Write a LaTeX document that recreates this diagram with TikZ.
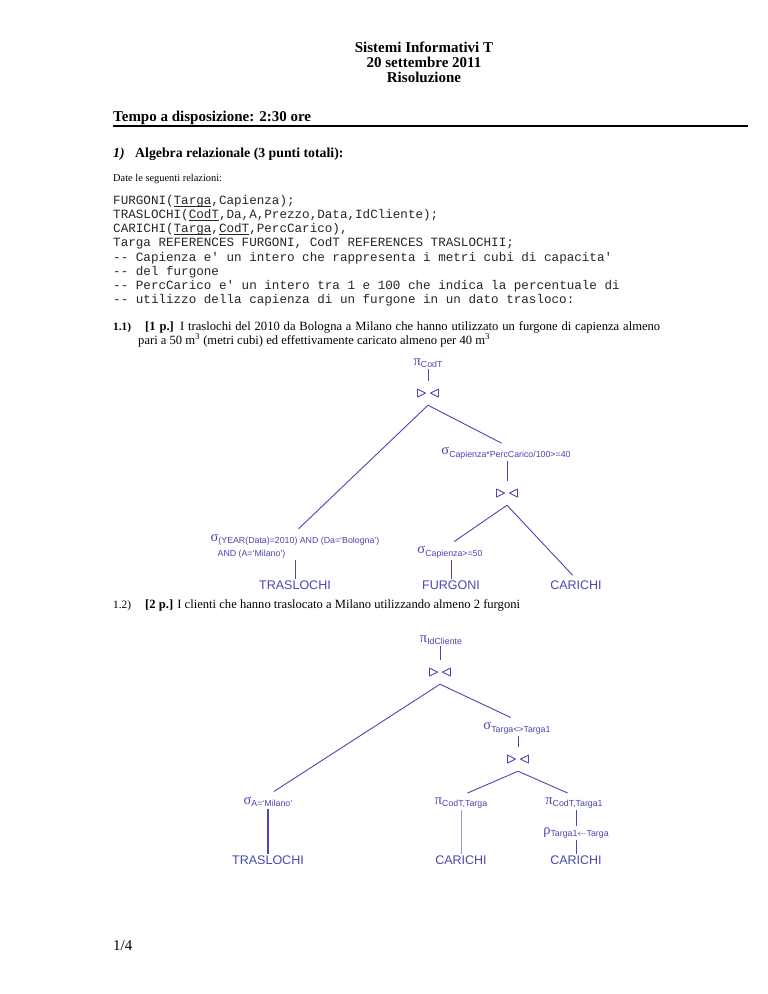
\documentclass[tikz,border=0pt]{standalone}
\usepackage{fontspec}
\setmainfont{Liberation Serif}
\setsansfont{Liberation Sans}
\setmonofont{Liberation Mono}
\usetikzlibrary{positioning}
\definecolor{relblue}{RGB}{72,72,176}
\newcommand{\relop}[2]{{\fontsize{14.5}{14.5}\selectfont\rmfamily #1}\raisebox{-2.5pt}{\fontsize{8.8}{10}\selectfont\sffamily #2}}
\newcommand{\keyattr}[1]{\underline{\smash{#1}}}
\tikzset{
    treeline/.style={draw=relblue, line width=0.9pt},
    leg/.style={treeline, shorten >=5pt},
    relnode/.style={text=relblue, inner sep=1.5pt},
    relname/.style={text=relblue, inner sep=1.5pt, font=\fontsize{12.5}{12.5}\selectfont\sffamily},
    joinop/.style={minimum width=24pt, minimum height=24pt, inner sep=0pt,
        path picture={\draw[relblue, line width=0.9pt, line join=round]
            ([shift={(-10.5pt,4pt)}]path picture bounding box.center) -- ++(8pt,-4pt) -- ++(-8pt,-4pt) -- cycle
            ([shift={(10.5pt,4pt)}]path picture bounding box.center) -- ++(-8pt,-4pt) -- ++(8pt,-4pt) -- cycle;}},
    txt/.style={anchor=base west, inner sep=0pt, font=\fontsize{12.6}{14.4}\selectfont},
    headline/.style={anchor=base, inner sep=0pt, font=\fontsize{15}{15}\selectfont\bfseries}
}

\begin{document}
\begin{tikzpicture}[x=1pt, y=-1pt]
    \fill[white] (0,0) rectangle (768,994);
    % intestazione
    \node[headline] (corso) at (424,52) {Sistemi Informativi T};
    \node[headline] (data) at (424,67) {20 settembre 2011};
    \node[headline] (ris) at (424,82) {Risoluzione};
    \node[txt, font=\fontsize{15}{17}\selectfont\bfseries] (tempo) at (113,121) {Tempo a disposizione: 2:30 ore};
    \draw[line width=1.5pt] (113,126) -- (748,126);
    \node[txt, font=\fontsize{13.8}{16}\selectfont\bfseries\itshape] (es1) at (113,157) {1)};
    \node[txt, font=\fontsize{13.8}{16}\selectfont\bfseries] (es1t) at (135,157) {Algebra relazionale (3 punti totali):};
    \node[txt, font=\fontsize{10.4}{12}\selectfont] (date) at (113,181) {Date le seguenti relazioni:};
    \node[anchor=north west, inner sep=0pt, align=left, text=black!85,
          font=\fontsize{12.6}{14.2}\selectfont\ttfamily] (schema) at (113,195)
        {FURGONI(\keyattr{Targa},Capienza);\\
         TRASLOCHI(\keyattr{CodT},Da,A,Prezzo,Data,IdCliente);\\
         CARICHI(\keyattr{Targa},\keyattr{CodT},PercCarico),\\
         Targa REFERENCES FURGONI, CodT REFERENCES TRASLOCHII;\\
         -- Capienza e' un intero che rappresenta i metri cubi di capacita'\\
         -- del furgone\\
         -- PercCarico e' un intero tra 1 e 100 che indica la percentuale di\\
         -- utilizzo della capienza di un furgone in un dato trasloco:};
    % domanda 1.1
    \node[txt, font=\fontsize{11.3}{13}\selectfont\bfseries] (q11) at (113,330) {1.1)};
    \node[txt] (q11t) at (145,330) {\makebox[515pt][s]{\textbf{[1 p.]} I traslochi del 2010 da Bologna a Milano che hanno utilizzato un furgone di capienza almeno}};
    \node[txt] (q11u) at (138,344) {pari a 50 m\textsuperscript{3} (metri cubi) ed effettivamente caricato almeno per 40 m\textsuperscript{3}};
    \node[relnode] (pic) at (428,363) {\relop{π}{CodT}};
    \node[joinop] (j1) at (428,393) {};
    \node[relnode] (selc) at (506,453) {\relop{σ}{Capienza*PercCarico/100>=40}};
    \node[joinop] (j2) at (507,493) {};
    \node[relnode, align=left] (sely) at (295,546)
        {\relop{σ}{(YEAR(Data)=2010) AND (Da=`Bologna')}\\[3pt]
         \hspace*{7pt}{\fontsize{8.8}{10}\selectfont\sffamily AND (A=`Milano')}};
    \node[relnode] (self) at (450,552) {\relop{σ}{Capienza>=50}};
    \node[relname] (trasl) at (295,585) {TRASLOCHI};
    \node[relname] (furg) at (451,585) {FURGONI};
    \node[relname] (car) at (576,585) {CARICHI};

    \draw[treeline] (pic) -- (j1);
    \draw[leg] (j1.south) -- (sely.north);
    \draw[leg] (j1.south) -- (selc.north);
    \draw[treeline] (j2 |- selc.south) -- (j2.north);
    \draw[leg] (j2.south) -- (self.north);
    \draw[leg] (j2.south) -- (car.north);
    \draw[treeline] (sely.south) -- (trasl.north);
    \draw[treeline] (furg |- self.south) -- (furg.north);
    % domanda 1.2
    \node[txt, font=\fontsize{11.3}{13}\selectfont] (q12) at (113,608) {1.2)};
    \node[txt] (q12t) at (145,608) {\textbf{[2 p.]} I clienti che hanno traslocato a Milano utilizzando almeno 2 furgoni};
    \node[relnode] (pii) at (441,640) {\relop{π}{IdCliente}};
    \node[joinop] (j3) at (440,672) {};
    \node[relnode] (selt) at (517,728) {\relop{σ}{Targa<>Targa1}};
    \node[joinop] (j4) at (518,759) {};
    \node[relnode] (sela) at (268,802) {\relop{σ}{A=`Milano'}};
    \node[relnode] (procc) at (461,803) {\relop{π}{CodT,Targa}};
    \node[relnode] (proct) at (574,803) {\relop{π}{CodT,Targa1}};
    \node[relnode] (ren) at (576,833) {\relop{ρ}{Targa1$\leftarrow$Targa}};
    \node[relname] (trasl2) at (268,860) {TRASLOCHI};
    \node[relname] (car2) at (461,860) {CARICHI};
    \node[relname] (car3) at (576,860) {CARICHI};

    \draw[treeline] (j3 |- pii.south) -- (j3.north);
    \draw[leg, shorten >=7pt] (j3.south) -- (sela.north);
    \draw[leg, shorten >=7pt] (j3.south) -- (selt.north);
    \draw[treeline] (j4 |- selt.south) -- (j4.north);
    \draw[leg, shorten >=7pt] (j4.south) -- (procc.north);
    \draw[leg, shorten >=7pt] (j4.south) -- (proct.north);
    \draw[treeline, line width=1.6pt] (sela.south) -- (trasl2.north);
    \draw[treeline, draw=relblue!55] (car2 |- procc.south) -- (car2.north);
    \draw[treeline, line width=0.6pt] (car3 |- proct.south) -- (car3 |- ren.north);
    \draw[treeline, line width=0.6pt] (car3 |- ren.south) -- (car3.north);
    % pagina
    \node[txt, font=\fontsize{15}{17}\selectfont] (pag) at (113,950) {1/4};
\end{tikzpicture}
\end{document}
